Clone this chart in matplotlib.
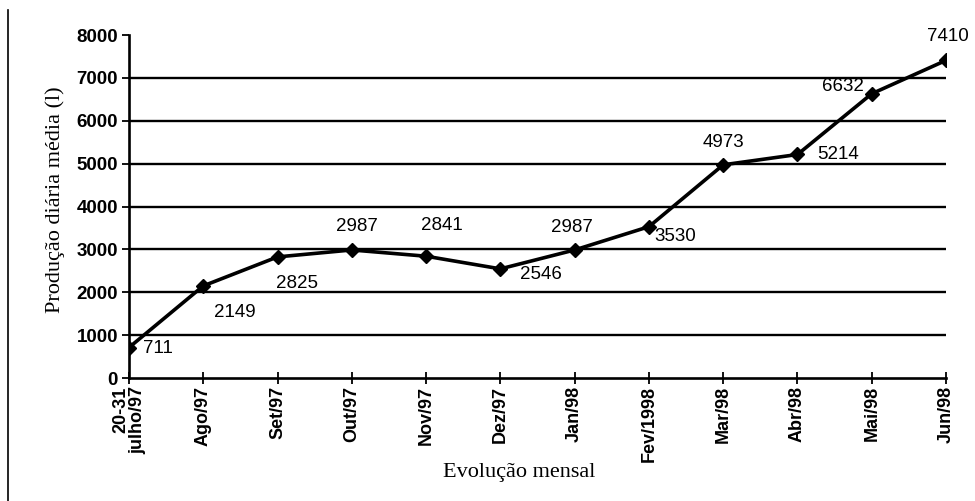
import matplotlib
matplotlib.use("Agg")
import matplotlib.pyplot as plt
from matplotlib.lines import Line2D

categories = ["20-31\njulho/97", "Ago/97", "Set/97", "Out/97", "Nov/97", "Dez/97",
              "Jan/98", "Fev/1998", "Mar/98", "Abr/98", "Mai/98", "Jun/98"]
values = [711, 2149, 2825, 2987, 2841, 2546, 2987, 3530, 4973, 5214, 6632, 7410]
# label placement (offset in points)
label_offsets = [(10, -1), (8, -19), (-1, -19), (4, 17), (11, 22), (14, -4),
                 (-2, 16), (4, -7), (0, 16), (14, 0), (-6, 5), (1, 17)]
label_ha = ["left", "left", "left", "center", "center", "left",
            "center", "left", "center", "left", "right", "center"]

fig = plt.figure(figsize=(9.75, 5.01), dpi=100)
ax = fig.add_axes([0.1323, 0.2455, 0.8380, 0.6845])
x = list(range(len(categories)))

for g in range(1000, 8000, 1000):
    ax.axhline(g, color="black", lw=1.7, zorder=1)

ax.plot(x, values, color="black", lw=2.6, marker="D", markersize=7.5, zorder=3)

for xi, v, off, ha in zip(x, values, label_offsets, label_ha):
    ax.annotate(str(v), (xi, v), xytext=off, textcoords="offset points",
                ha=ha, va="center", fontsize=13.5, family="Liberation Sans",
                color="black")

ax.set_xlim(0, len(categories) - 1)
ax.set_ylim(0, 8000)
ax.set_yticks(range(0, 8001, 1000))
ax.set_yticklabels([str(t) for t in range(0, 8001, 1000)],
                   fontsize=13.5, fontweight="bold", family="Liberation Sans")
ax.set_xticks(x)
ax.set_xticklabels(categories, rotation=90, fontsize=13, fontweight="bold",
                   family="Liberation Sans", va="top", ha="center",
                   multialignment="right", linespacing=1.0)
ax.tick_params(axis="x", direction="inout", length=8, width=1.3, pad=2)
ax.tick_params(axis="y", direction="out", length=5, width=1.3, pad=3)

for s in ["top", "right"]:
    ax.spines[s].set_visible(False)
for s in ["left", "bottom"]:
    ax.spines[s].set_linewidth(1.9)

fig.text(60 / 975, 1 - 200 / 501, "Produção diária média (l)", rotation=90,
         rotation_mode="anchor", ha="center", va="baseline",
         fontsize=16, family="Liberation Serif")
fig.text(519 / 975, 1 - 477 / 501, "Evolução mensal",
         ha="center", va="baseline", fontsize=16, family="Liberation Serif")

fig.add_artist(Line2D([0.008, 0.008], [0.0, 0.98], color="black", lw=1.2,
                      transform=fig.transFigure))

fig.savefig("out.png", dpi=100)
